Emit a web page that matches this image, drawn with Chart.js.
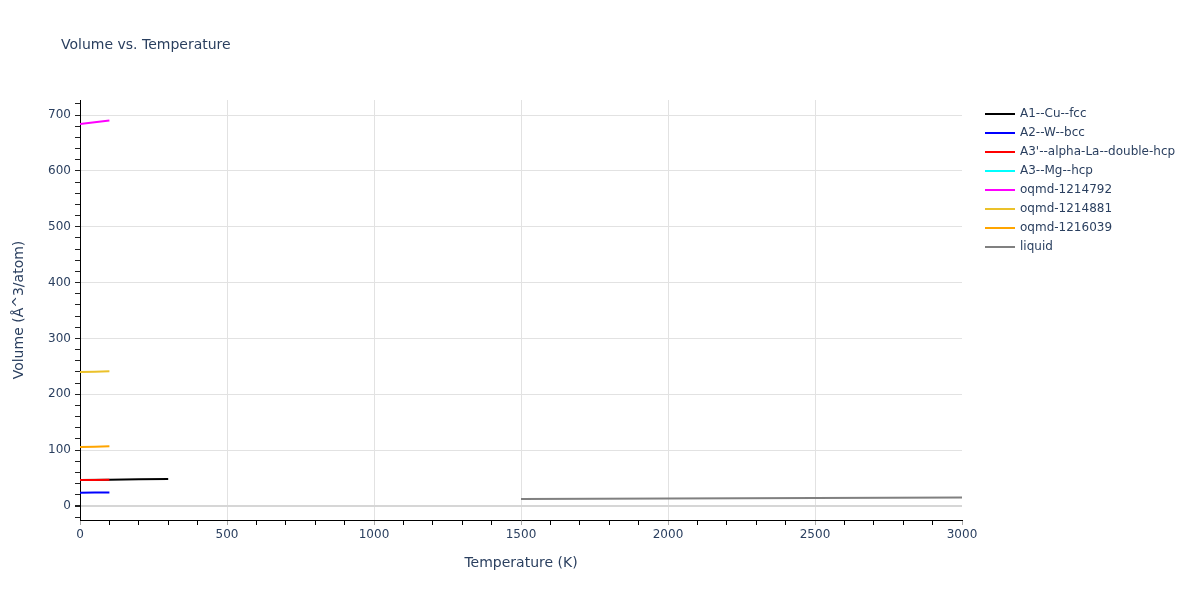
<!DOCTYPE html>
<html>
<head>
<meta charset="utf-8">
<script src="https://cdn.jsdelivr.net/npm/chart.js@4.4.1/dist/chart.umd.min.js"></script>
<style>
  html, body { margin: 0; padding: 0; background: #fff; }
  #wrap { width: 1200px; height: 600px; }
</style>
</head>
<body>
<div id="wrap"><canvas id="volChart" width="1200" height="600"></canvas></div>
<script>
// series names
const seriesNames = ['A1--Cu--fcc', 'A2--W--bcc', "A3'--alpha-La--double-hcp", 'A3--Mg--hcp',
    'oqmd-1214792', 'oqmd-1214881', 'oqmd-1216039', 'liquid'];
const seriesColors = ['#000000', '#0000ff', '#ff0000', '#00ffff', '#ff00ff', '#ebc12a', '#ffa500', '#808080'];

// temperatures (K) and volumes (Å^3/atom) per series
const cuTemp = [0, 100, 200, 300];
const cuVol = [46.5, 47.1, 47.7, 48.4];
const wTemp = [0, 50, 100];
const wVol = [23.9, 24.0, 24.1];
const laTemp = [0, 50, 100];
const laVol = [46.4, 46.6, 46.8];
const mgTemp = [];
const mgVol = [];
const q792Temp = [0, 50, 100];
const q792Vol = [684, 687, 690];
const q881Temp = [0, 50, 100];
const q881Vol = [240.0, 240.5, 241.2];
const q039Temp = [0, 50, 100];
const q039Vol = [105.5, 106.2, 107.0];
const liqTemp = [1500, 2000, 2500, 3000];
const liqVol = [12.6, 13.4, 14.2, 15.0];

const allTemps = [cuTemp, wTemp, laTemp, mgTemp, q792Temp, q881Temp, q039Temp, liqTemp];
const allVols = [cuVol, wVol, laVol, mgVol, q792Vol, q881Vol, q039Vol, liqVol];

// axis ranges
const xMin = 0, xMax = 3000;
const yMin = -25.06, yMax = 726.9;

const textColor = '#2a3f5f';
const font = "'DejaVu Sans', Verdana, sans-serif";

const datasets = seriesNames.map((name, i) => ({
    label: name,
    data: allTemps[i].map((t, j) => ({ x: t, y: allVols[i][j] })),
    borderColor: seriesColors[i],
    backgroundColor: seriesColors[i],
    borderWidth: 2,
    pointRadius: 0,
    pointHoverRadius: 0,
    tension: 0,
    order: seriesNames.length - i   // later traces on top, like plotly
}));

// title + legend drawn by hand so they sit where the reference has them
const titleLegendPlugin = {
    id: 'titleLegend',
    afterDraw(chart) {
        const ctx = chart.ctx;
        ctx.save();
        ctx.font = '14px ' + font;
        ctx.fillStyle = textColor;
        ctx.textBaseline = 'middle';
        ctx.textAlign = 'left';
        ctx.fillText('Volume vs. Temperature', 61, 45);

        ctx.font = '12px ' + font;
        chart.data.datasets.forEach((ds, i) => {
            const y = 114 + 19 * i;
            ctx.strokeStyle = ds.borderColor;
            ctx.lineWidth = 2;
            ctx.beginPath();
            ctx.moveTo(985, y);
            ctx.lineTo(1015, y);
            ctx.stroke();
            ctx.fillStyle = textColor;
            ctx.fillText(ds.label, 1020, y);
        });
        ctx.restore();
    }
};

function makeTicks(from, to, step) {
    const out = [];
    for (let v = from; v <= to + 1e-9; v += step) out.push({ value: v });
    return out;
}

new Chart(document.getElementById('volChart').getContext('2d'), {
    type: 'line',
    data: { datasets: datasets },
    plugins: [titleLegendPlugin],
    options: {
        responsive: false,
        animation: false,
        devicePixelRatio: 1,
        layout: { padding: { top: 100, right: 238, bottom: 0, left: 0 } },
        plugins: {
            title: { display: false },
            tooltip: { enabled: false },
            legend: { display: false }
        },
        scales: {
            x: {
                type: 'linear',
                min: xMin,
                max: xMax,
                afterBuildTicks: s => { s.ticks = makeTicks(0, 3000, 100); },
                afterFit: s => { s.height = 80; },
                border: { display: true, color: '#000', width: 1 },
                grid: {
                    color: c => (c.tick && c.tick.value % 500 === 0 && c.tick.value > 0 && c.tick.value < 3000) ? '#e2e2e2' : 'rgba(0,0,0,0)',
                    tickColor: c => (c.tick && c.tick.value % 500 === 0) ? '#aaaaaa' : '#000',
                    tickLength: 5,
                    drawTicks: true
                },
                ticks: {
                    autoSkip: false,
                    maxRotation: 0,
                    padding: 3,
                    color: textColor,
                    font: { family: font, size: 12 },
                    callback: v => (v % 500 === 0 ? String(v) : '')
                },
                title: {
                    display: true,
                    text: 'Temperature (K)',
                    color: textColor,
                    font: { family: font, size: 14 },
                    padding: { top: 0, bottom: 28 }
                }
            },
            y: {
                type: 'linear',
                min: yMin,
                max: yMax,
                afterBuildTicks: s => { s.ticks = makeTicks(-20, 720, 20); },
                afterFit: s => { s.width = 80; },
                border: { display: true, color: '#000', width: 1 },
                grid: {
                    color: c => (c.tick && c.tick.value % 100 === 0) ? (c.tick.value === 0 ? '#d6d6d6' : '#e2e2e2') : 'rgba(0,0,0,0)',
                    lineWidth: c => (c.tick && c.tick.value === 0) ? 2 : 1,
                    tickColor: '#222',
                    tickLength: 5
                },
                ticks: {
                    autoSkip: false,
                    padding: 4,
                    color: textColor,
                    font: { family: font, size: 12 },
                    callback: v => (Math.abs(v % 100) < 1e-9 ? String(v) : '')
                },
                title: {
                    display: true,
                    text: 'Volume (Å^3/atom)',
                    color: textColor,
                    font: { family: font, size: 14 },
                    padding: { top: 11, bottom: 0 }
                }
            }
        }
    }
});
</script>
</body>
</html>
